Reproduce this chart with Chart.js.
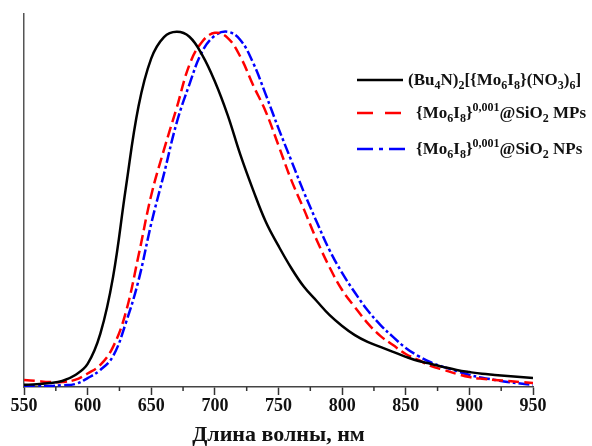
<!DOCTYPE html>
<html>
<head>
<meta charset="utf-8">
<script src="https://cdn.jsdelivr.net/npm/chart.js@4/dist/chart.umd.min.js"></script>
<style>
  html, body { margin: 0; padding: 0; background: #fff; }
  #wrap { position: relative; width: 592px; height: 446px; }
  .leg { position: absolute; font: bold 17px "Liberation Serif", "Times New Roman", serif; color: #111; white-space: nowrap; line-height: 1; }
  .leg sub, .leg sup { font-size: 12px; line-height: 0; }
  .sample { position: absolute; }
</style>
</head>
<body>
<div id="wrap">
  <canvas id="chart" width="592" height="446"></canvas>
  <svg class="sample" style="left:357px;top:75px" width="50" height="10"><line x1="0" y1="5" x2="46" y2="5" stroke="#000" stroke-width="2.5"/></svg>
  <svg class="sample" style="left:357px;top:108px" width="50" height="10"><line x1="0" y1="5" x2="44" y2="5" stroke="#f00" stroke-width="2.5" stroke-dasharray="16 12"/></svg>
  <svg class="sample" style="left:357px;top:144px" width="52" height="10"><line x1="0" y1="5" x2="50" y2="5" stroke="#00f" stroke-width="2.5" stroke-dasharray="16 6 4 6"/></svg>
  <div class="leg" style="left:408px;top:71px">(Bu<sub>4</sub>N)<sub>2</sub>[{Mo<sub>6</sub>I<sub>8</sub>}(NO<sub>3</sub>)<sub>6</sub>]</div>
  <div class="leg" style="left:416px;top:104px">{Mo<sub>6</sub>I<sub>8</sub>}<sup>0,001</sup>@SiO<sub>2</sub> MPs</div>
  <div class="leg" style="left:416px;top:140px">{Mo<sub>6</sub>I<sub>8</sub>}<sup>0,001</sup>@SiO<sub>2</sub> NPs</div>
</div>
<script>
const wavelengths = [550, 560, 570, 580, 590, 600, 610, 620, 630, 640,
  650, 660, 670, 680, 690, 700, 710, 720, 730, 740,
  750, 760, 770, 780, 790, 800, 810, 820, 830, 840,
  850, 860, 870, 880, 890, 900, 910, 920, 930, 940, 950];

// (Bu4N)2[{Mo6I8}(NO3)6]
const complexValues = [0.006, 0.008, 0.011, 0.017, 0.033, 0.065, 0.15, 0.31, 0.56, 0.79,
  0.925, 0.985, 1.0, 0.986, 0.935, 0.86, 0.766, 0.654, 0.555, 0.465,
  0.397, 0.335, 0.282, 0.242, 0.203, 0.172, 0.146, 0.127, 0.113, 0.099,
  0.085, 0.073, 0.065, 0.056, 0.048, 0.042, 0.037, 0.034, 0.031, 0.028, 0.025];

// {Mo6I8}0,001@SiO2 MPs
const mpsValues = [0.02, 0.017, 0.014, 0.014, 0.02, 0.038, 0.062, 0.113, 0.21, 0.37,
  0.54, 0.668, 0.786, 0.907, 0.972, 0.997, 0.983, 0.93, 0.85, 0.775,
  0.68, 0.583, 0.5, 0.414, 0.338, 0.273, 0.225, 0.18, 0.144, 0.118,
  0.093, 0.076, 0.059, 0.048, 0.037, 0.028, 0.023, 0.02, 0.017, 0.014, 0.011];

// {Mo6I8}0,001@SiO2 NPs
const npsValues = [0.003, 0.003, 0.003, 0.005, 0.008, 0.025, 0.048, 0.087, 0.18, 0.3,
  0.46, 0.6, 0.744, 0.852, 0.944, 0.989, 1.0, 0.977, 0.913, 0.823,
  0.728, 0.638, 0.548, 0.465, 0.386, 0.321, 0.266, 0.216, 0.175, 0.141,
  0.11, 0.087, 0.069, 0.056, 0.045, 0.034, 0.026, 0.02, 0.014, 0.01, 0.006];

const xTickValues = [550, 600, 650, 700, 750, 800, 850, 900, 950];
const xMinorValues = [575, 625, 675, 725, 775, 825, 875, 925];

const toPoints = (vals) => vals.map((v, i) => ({ x: wavelengths[i], y: v }));

const serif = '"Liberation Serif", "Times New Roman", serif';

// short minor ticks under the x axis
const minorTicks = {
  id: 'minorTicks',
  afterDraw(chart) {
    const x = chart.scales.x;
    const ctx = chart.ctx;
    const y0 = chart.chartArea.bottom;
    ctx.save();
    ctx.strokeStyle = '#333';
    ctx.lineWidth = 1.5;
    ctx.beginPath();
    xMinorValues.forEach((v) => {
      const px = x.getPixelForValue(v);
      ctx.moveTo(px, y0);
      ctx.lineTo(px, y0 + 4);
    });
    ctx.stroke();
    ctx.restore();
  },
};

new Chart(document.getElementById('chart'), {
  type: 'line',
  data: {
    datasets: [
      { label: '(Bu4N)2[{Mo6I8}(NO3)6]', data: toPoints(complexValues), borderColor: '#000', borderWidth: 2.5, pointRadius: 0, tension: 0.4 },
      { label: '{Mo6I8}0,001@SiO2 MPs', data: toPoints(mpsValues), borderColor: '#ff0000', borderWidth: 2.5, borderDash: [11, 5], pointRadius: 0, tension: 0.4 },
      { label: '{Mo6I8}0,001@SiO2 NPs', data: toPoints(npsValues), borderColor: '#0000ff', borderWidth: 2.5, borderDash: [11, 3, 3, 3], pointRadius: 0, tension: 0.4 },
    ],
  },
  options: {
    responsive: false,
    animation: false,
    layout: { padding: { left: 24, top: 14, right: 59, bottom: 0 } },
    plugins: { legend: { display: false }, tooltip: { enabled: false } },
    scales: {
      x: {
        type: 'linear',
        min: 550,
        max: 950,
        afterBuildTicks: (s) => { s.ticks = xTickValues.map((v) => ({ value: v })); },
        afterFit: (s) => { s.height = 59; },
        ticks: { color: '#111', font: { family: serif, size: 18, weight: 'bold' }, padding: 1, maxRotation: 0, autoSkip: false },
        grid: { display: true, drawOnChartArea: false, drawTicks: true, tickLength: 8, tickColor: '#333', tickWidth: 1.5 },
        border: { display: true, color: '#444', width: 1.5 },
        title: { display: true, text: 'Длина волны, нм', color: '#111', font: { family: serif, size: 22, weight: 'bold', lineHeight: 1 }, padding: { top: 0, bottom: 0 } },
      },
      y: {
        min: 0,
        max: 1.05,
        afterFit: (s) => { s.width = 0; },
        ticks: { display: false },
        grid: { display: false },
        border: { display: true, color: '#555', width: 1.5 },
      },
    },
  },
  plugins: [minorTicks],
});
</script>
</body>
</html>
